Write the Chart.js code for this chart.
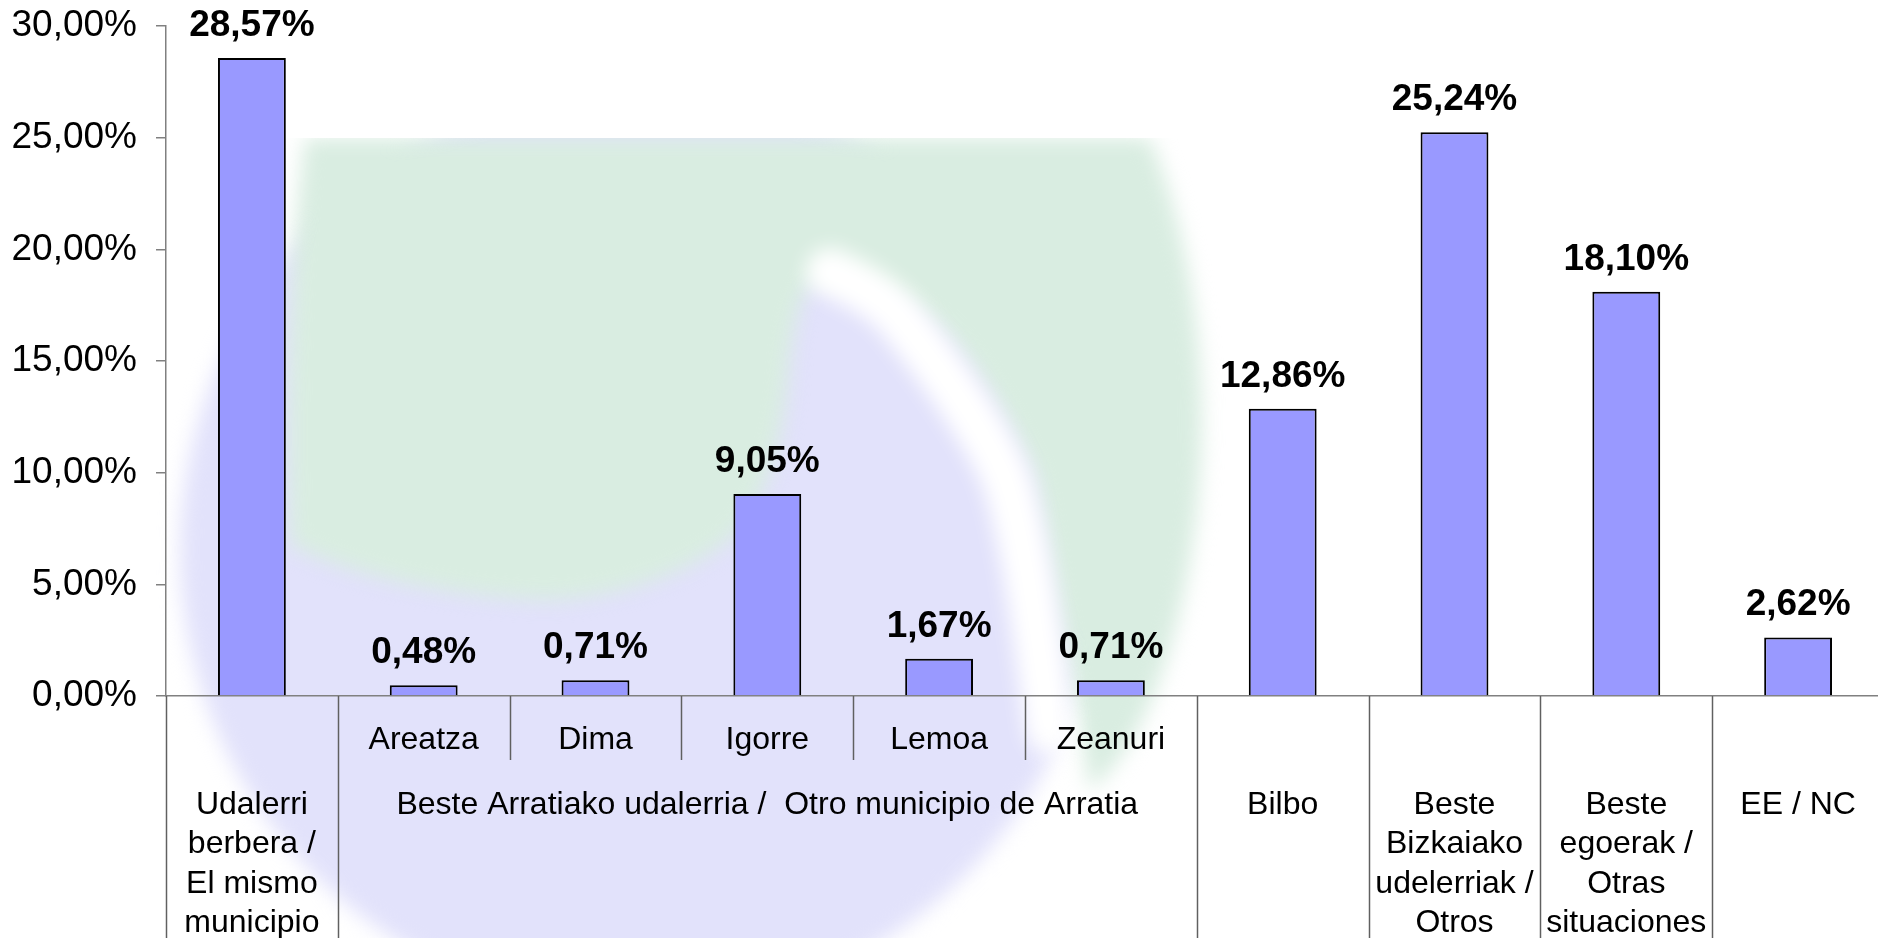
<!DOCTYPE html>
<html>
<head>
<meta charset="utf-8">
<script src="https://cdn.jsdelivr.net/npm/chart.js@4.4.0/dist/chart.umd.min.js"></script>
<style>
  html, body { margin: 0; padding: 0; background: #fff; overflow: hidden; }
  #wrap { width: 1878px; height: 938px; overflow: hidden; }
</style>
</head>
<body>
<div id="wrap"><canvas id="chart" width="1884" height="938"></canvas></div>
<script>
// categories (one bar each) and their values in %
const categories = ['Udalerri berbera', 'Areatza', 'Dima', 'Igorre', 'Lemoa', 'Zeanuri', 'Bilbo', 'Beste Bizkaiako udelerriak', 'Beste egoerak', 'EE / NC'];
const values = [28.57, 0.48, 0.71, 9.05, 1.67, 0.71, 12.86, 25.24, 18.10, 2.62];

// first level of the axis (municipalities inside Arratia)
const subLabels = ['', 'Areatza', 'Dima', 'Igorre', 'Lemoa', 'Zeanuri', '', '', '', ''];

// second level: groups of categories
const groupStart = [0, 1, 6, 7, 8, 9];
const groupEnd = [0, 5, 6, 7, 8, 9];
const groupLines = [
    ['Udalerri', 'berbera /', 'El mismo', 'municipio'],
    ['Beste Arratiako udalerria /  Otro municipio de Arratia'],
    ['Bilbo'],
    ['Beste', 'Bizkaiako', 'udelerriak /', 'Otros'],
    ['Beste', 'egoerak /', 'Otras', 'situaciones'],
    ['EE / NC']
];

const yMax = 30;
const yStep = 5;

const FONT = '"Liberation Sans", Arial, sans-serif';
const AXIS_COLOR = '#808080';

function pct(v, d) {
    return v.toFixed(d).replace('.', ',') + '%';
}

// faded logo behind the plot
const logoBackground = {
    id: 'logoBackground',
    beforeDraw(chart) {
        const ctx = chart.ctx;
        ctx.save();
        ctx.filter = 'blur(10px)';

        // blue disc
        ctx.fillStyle = 'rgb(226,226,251)';
        ctx.beginPath();
        ctx.arc(640, 550, 460, 0, Math.PI * 2);
        ctx.fill();

        // green leaf + right band
        ctx.fillStyle = 'rgb(217,237,225)';
        ctx.beginPath();
        ctx.moveTo(305, 138);
        ctx.lineTo(1150, 138);
        ctx.bezierCurveTo(1200, 260, 1215, 420, 1190, 560);
        ctx.bezierCurveTo(1170, 680, 1130, 760, 1090, 790);
        ctx.bezierCurveTo(1080, 730, 1070, 680, 1062, 634);
        ctx.bezierCurveTo(1050, 560, 1040, 500, 1034, 474);
        ctx.bezierCurveTo(1000, 400, 960, 340, 922, 314);
        ctx.bezierCurveTo(890, 295, 850, 282, 815, 282);
        ctx.bezierCurveTo(800, 290, 792, 330, 788, 380);
        ctx.bezierCurveTo(782, 440, 770, 490, 740, 530);
        ctx.bezierCurveTo(700, 570, 620, 600, 540, 600);
        ctx.bezierCurveTo(440, 595, 350, 575, 290, 545);
        ctx.bezierCurveTo(285, 400, 290, 250, 305, 138);
        ctx.fill();

        // white swirl between blue wedge and the right band
        ctx.strokeStyle = '#fff';
        ctx.lineWidth = 48;
        ctx.lineCap = 'round';
        ctx.beginPath();
        ctx.moveTo(830, 272);
        ctx.bezierCurveTo(860, 285, 885, 300, 900, 318);
        ctx.bezierCurveTo(950, 380, 990, 440, 1006, 480);
        ctx.bezierCurveTo(1025, 540, 1035, 620, 1050, 730);
        ctx.stroke();

        ctx.restore();
        // flat top edge of the logo
        ctx.fillStyle = '#fff';
        ctx.fillRect(0, 0, chart.width, 138);
    }
};

// percentages above the bars
const valueLabels = {
    id: 'valueLabels',
    afterDatasetsDraw(chart) {
        const ctx = chart.ctx;
        const meta = chart.getDatasetMeta(0);
        ctx.save();
        ctx.font = 'bold 37px ' + FONT;
        ctx.fillStyle = '#000';
        ctx.textAlign = 'center';
        ctx.textBaseline = 'alphabetic';
        meta.data.forEach((bar, i) => {
            ctx.fillText(pct(values[i], 2), bar.x, bar.y - 22);
        });
        ctx.restore();
    }
};

// two-level category axis drawn from the x scale
const groupedAxis = {
    id: 'groupedAxis',
    afterDraw(chart) {
        const ctx = chart.ctx;
        const x = chart.scales.x;
        const bottom = chart.chartArea.bottom;
        const half = (x.getPixelForValue(1) - x.getPixelForValue(0)) / 2;
        const edge = (i) => x.getPixelForValue(i) - half;

        ctx.save();
        ctx.strokeStyle = '#606060';
        ctx.lineWidth = 1.5;

        // full height separators at group edges
        groupStart.forEach((s) => {
            const px = Math.round(edge(s)) + 0.5;
            ctx.beginPath();
            ctx.moveTo(px, bottom);
            ctx.lineTo(px, chart.height);
            ctx.stroke();
        });
        // short separators between sub labels
        for (let i = 1; i < categories.length; i++) {
            if (groupStart.includes(i)) continue;
            const px = Math.round(edge(i)) + 0.5;
            ctx.beginPath();
            ctx.moveTo(px, bottom);
            ctx.lineTo(px, bottom + 64);
            ctx.stroke();
        }

        ctx.fillStyle = '#000';
        ctx.textAlign = 'center';
        ctx.textBaseline = 'middle';
        ctx.font = '32px ' + FONT;
        subLabels.forEach((t, i) => {
            if (t) ctx.fillText(t, x.getPixelForValue(i), bottom + 44);
        });
        groupLines.forEach((lines, g) => {
            const cx = (x.getPixelForValue(groupStart[g]) + x.getPixelForValue(groupEnd[g])) / 2;
            lines.forEach((line, k) => {
                ctx.fillText(line, cx, bottom + 109 + k * 39.5);
            });
        });
        ctx.restore();
    }
};

const chart = new Chart(document.getElementById('chart'), {
    type: 'bar',
    data: {
        labels: categories,
        datasets: [{
            data: values,
            backgroundColor: '#9999ff',
            borderColor: '#000',
            borderWidth: 2,
            borderSkipped: 'bottom',
            barPercentage: 0.395,
            categoryPercentage: 1
        }]
    },
    options: {
        responsive: false,
        animation: false,
        layout: { padding: { top: 26, bottom: 242, left: 0, right: 0 } },
        plugins: {
            legend: { display: false },
            tooltip: { enabled: false }
        },
        scales: {
            x: {
                grid: { display: false, drawTicks: false },
                ticks: { display: false },
                border: { display: true, color: AXIS_COLOR, width: 1.5 }
            },
            y: {
                min: 0,
                max: yMax,
                ticks: {
                    stepSize: yStep,
                    color: '#000',
                    padding: 19,
                    font: { family: FONT, size: 37 },
                    callback: (v) => pct(v, 2)
                },
                grid: {
                    drawOnChartArea: false,
                    drawTicks: true,
                    tickLength: 10,
                    color: AXIS_COLOR,
                    lineWidth: 1.5
                },
                border: { display: true, color: AXIS_COLOR, width: 1.5 },
                afterFit: (s) => {
                    s.width = 166;
                    s.paddingTop = 0;
                    s.paddingBottom = 0;
                }
            }
        }
    },
    plugins: [logoBackground, valueLabels, groupedAxis]
});
</script>
</body>
</html>
